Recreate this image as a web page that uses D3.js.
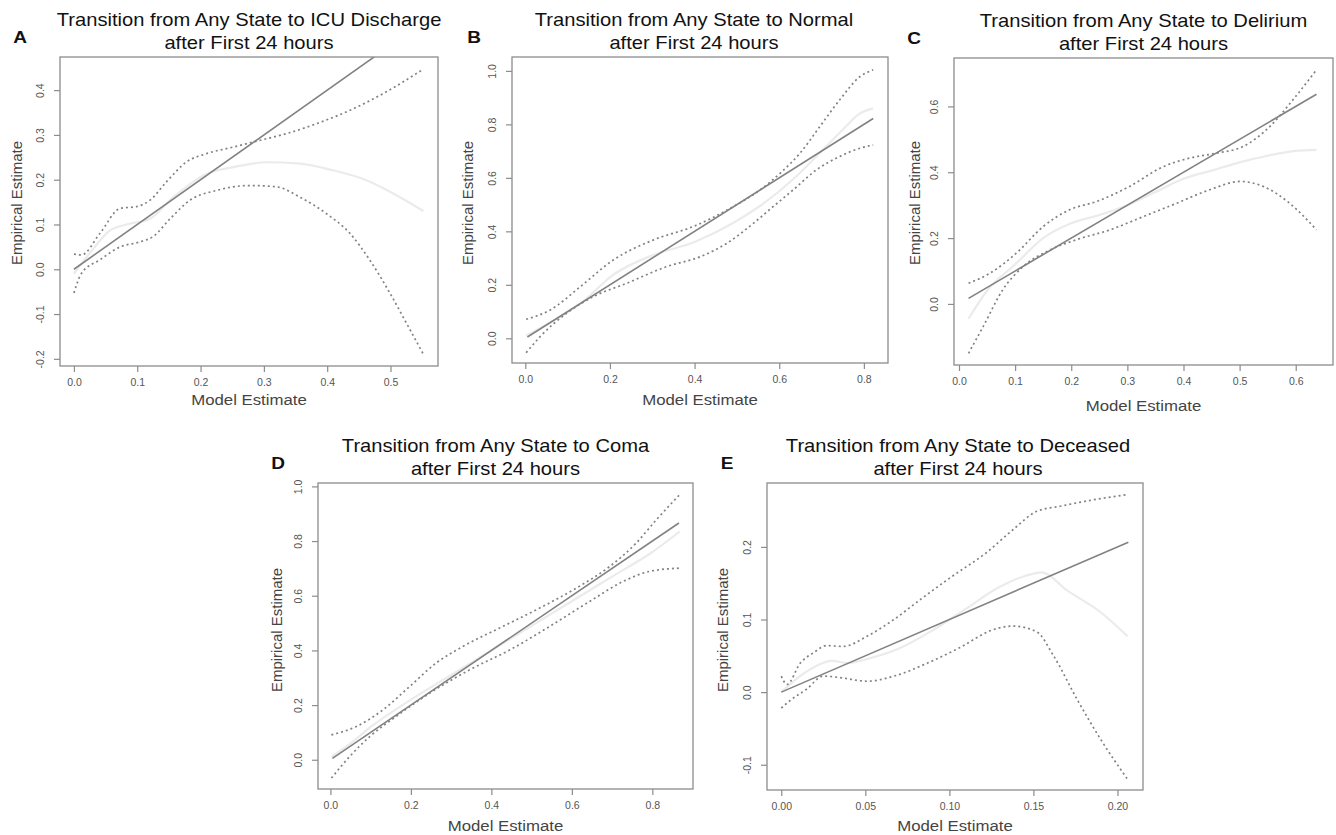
<!DOCTYPE html>
<html>
<head>
<meta charset="utf-8">
<script src="https://cdn.jsdelivr.net/npm/d3@7"></script>
<style>
  body { margin: 0; background: #fff; }
  text { font-family: "Liberation Sans", Arial, sans-serif; }
</style>
</head>
<body>
<div id="dataviz"></div>
<script>
// panel titles and letters
var letters = ['A', 'B', 'C', 'D', 'E'];
var targets = ['ICU Discharge', 'Normal', 'Delirium', 'Coma', 'Deceased'];

// tick values for each panel
var xTicksA = [0, 0.1, 0.2, 0.3, 0.4, 0.5];
var yTicksA = [-0.2, -0.1, 0, 0.1, 0.2, 0.3, 0.4];
var xTicksB = [0, 0.2, 0.4, 0.6, 0.8];
var yTicksB = [0, 0.2, 0.4, 0.6, 0.8, 1.0];
var xTicksC = [0, 0.1, 0.2, 0.3, 0.4, 0.5, 0.6];
var yTicksC = [0, 0.2, 0.4, 0.6];
var xTicksD = [0, 0.2, 0.4, 0.6, 0.8];
var yTicksD = [0, 0.2, 0.4, 0.6, 0.8, 1.0];
var xTicksE = [0, 0.05, 0.10, 0.15, 0.20];
var yTicksE = [-0.1, 0, 0.1, 0.2];

// identity line ends (model estimate range)
var lineA = [[0, 0], [0.555, 0.555]];
var lineB = [[0.005, 0.005], [0.822, 0.822]];
var lineC = [[0.017, 0.017], [0.637, 0.637]];
var lineD = [[0.005, 0.005], [0.866, 0.866]];
var lineE = [[0, 0], [0.2065, 0.2065]];

// A: ICU discharge
var upperA = [[0, 0.034], [0.012, 0.032], [0.041, 0.080], [0.073, 0.136], [0.099, 0.140], [0.12, 0.154],
  [0.146, 0.195], [0.178, 0.24], [0.209, 0.258], [0.252, 0.273], [0.294, 0.288], [0.336, 0.303],
  [0.383, 0.325], [0.436, 0.355], [0.488, 0.392], [0.552, 0.447]];
var lowerA = [[0, -0.053], [0.012, -0.009], [0.041, 0.021], [0.073, 0.05], [0.104, 0.061], [0.125, 0.073],
  [0.152, 0.113], [0.183, 0.154], [0.225, 0.176], [0.278, 0.187], [0.32, 0.184], [0.357, 0.161],
  [0.399, 0.124], [0.436, 0.08], [0.467, 0.021], [0.499, -0.053], [0.525, -0.12], [0.552, -0.19]];
var midA = [[0, -0.01], [0.03, 0.045], [0.057, 0.087], [0.083, 0.10], [0.12, 0.113], [0.157, 0.161],
  [0.209, 0.213], [0.252, 0.228], [0.304, 0.239], [0.357, 0.236], [0.409, 0.221], [0.462, 0.199],
  [0.515, 0.161], [0.552, 0.130]];

// B: normal
var upperB = [[0.002, 0.071], [0.059, 0.106], [0.13, 0.193], [0.208, 0.293], [0.303, 0.368], [0.397, 0.418],
  [0.492, 0.493], [0.555, 0.555], [0.602, 0.617], [0.649, 0.692], [0.696, 0.792], [0.743, 0.892],
  [0.791, 0.979], [0.822, 1.004]];
var lowerB = [[0.002, -0.054], [0.035, 0.006], [0.098, 0.094], [0.161, 0.156], [0.24, 0.206], [0.334, 0.268],
  [0.413, 0.305], [0.476, 0.355], [0.539, 0.43], [0.586, 0.493], [0.633, 0.555], [0.688, 0.63],
  [0.743, 0.68], [0.791, 0.711], [0.822, 0.723]];
var midB = [[0.002, 0.01], [0.06, 0.06], [0.13, 0.13], [0.21, 0.24], [0.3, 0.31], [0.4, 0.36], [0.49, 0.43],
  [0.55, 0.49], [0.6, 0.55], [0.65, 0.62], [0.7, 0.7], [0.75, 0.78], [0.79, 0.84], [0.822, 0.86]];

// C: delirium
var upperC = [[0.017, 0.063], [0.055, 0.093], [0.102, 0.154], [0.15, 0.235], [0.197, 0.286], [0.245, 0.311],
  [0.304, 0.357], [0.364, 0.417], [0.411, 0.443], [0.459, 0.458], [0.506, 0.478], [0.554, 0.539],
  [0.595, 0.62], [0.637, 0.711]];
var lowerC = [[0.017, -0.15], [0.043, -0.069], [0.078, 0.043], [0.114, 0.113], [0.162, 0.164], [0.209, 0.195],
  [0.269, 0.225], [0.328, 0.265], [0.388, 0.306], [0.447, 0.347], [0.501, 0.372], [0.542, 0.357],
  [0.589, 0.306], [0.637, 0.225]];
var midC = [[0.017, -0.045], [0.05, 0.04], [0.1, 0.12], [0.15, 0.2], [0.2, 0.245], [0.25, 0.27], [0.3, 0.3],
  [0.35, 0.34], [0.4, 0.38], [0.45, 0.405], [0.5, 0.43], [0.55, 0.45], [0.6, 0.465], [0.637, 0.468]];

// D: coma
var upperD = [[0.0025, 0.091], [0.065, 0.122], [0.131, 0.183], [0.197, 0.268], [0.263, 0.354], [0.33, 0.415],
  [0.429, 0.488], [0.528, 0.561], [0.611, 0.628], [0.694, 0.707], [0.76, 0.793], [0.81, 0.878], [0.868, 0.970]];
var lowerD = [[0.0025, -0.067], [0.048, 0.012], [0.098, 0.085], [0.164, 0.159], [0.247, 0.244], [0.346, 0.329],
  [0.446, 0.402], [0.545, 0.488], [0.644, 0.579], [0.727, 0.652], [0.793, 0.689], [0.868, 0.701]];
var midD = [[0.0025, 0.01], [0.05, 0.06], [0.1, 0.12], [0.2, 0.22], [0.3, 0.31], [0.4, 0.4], [0.5, 0.49],
  [0.6, 0.58], [0.7, 0.67], [0.8, 0.76], [0.868, 0.835]];

// E: deceased
var upperE = [[0, 0.022], [0.0034, 0.0106], [0.0113, 0.04], [0.019, 0.054], [0.027, 0.064], [0.037, 0.063],
  [0.051, 0.077], [0.067, 0.1], [0.083, 0.128], [0.102, 0.16], [0.122, 0.192], [0.138, 0.224],
  [0.152, 0.249], [0.166, 0.256], [0.186, 0.265], [0.206, 0.272]];
var lowerE = [[0, -0.022], [0.005, -0.012], [0.015, 0.004], [0.025, 0.022], [0.035, 0.02], [0.051, 0.015],
  [0.067, 0.022], [0.087, 0.04], [0.106, 0.061], [0.126, 0.086], [0.138, 0.091], [0.152, 0.083],
  [0.162, 0.05], [0.176, -0.01], [0.19, -0.065], [0.206, -0.12]];
var midE = [[0, 0], [0.01, 0.02], [0.02, 0.035], [0.03, 0.043], [0.04, 0.04], [0.05, 0.045], [0.07, 0.06],
  [0.09, 0.085], [0.11, 0.115], [0.13, 0.145], [0.145, 0.16], [0.155, 0.165], [0.17, 0.14], [0.19, 0.11],
  [0.206, 0.077]];

// layout of each panel (plot box in px and the axis domain at the box edges)
var panels = [
  { box: [60, 57, 378, 309], xDom: [-0.022, 0.575], yDom: [-0.216, 0.474], xT: xTicksA, yT: yTicksA, xf: '.1f', yf: '.1f',
    line: lineA, up: upperA, lo: lowerA, mid: midA, tx: 0, xlab: 400, ylab: 17, yly: 203 },
  { box: [512, 57, 376, 306], xDom: [-0.0314, 0.857], yDom: [-0.0924, 1.052], xT: xTicksB, yT: yTicksB, xf: '.1f', yf: '.1f',
    line: lineB, up: upperB, lo: lowerB, mid: midB, tx: -6, xlab: 400, ylab: 468, yly: 203 },
  { box: [954, 58, 379, 307], xDom: [-0.0089, 0.6664], yDom: [-0.1855, 0.747], xT: xTicksC, yT: yTicksC, xf: '.1f', yf: '.1f',
    line: lineC, up: upperC, lo: lowerC, mid: midC, tx: 0, xlab: 406, ylab: 915, yly: 203 },
  { box: [318, 483, 375, 306], xDom: [-0.0308, 0.901], yDom: [-0.107, 1.0124], xT: xTicksD, yT: yTicksD, xf: '.1f', yf: '.1f',
    line: lineD, up: upperD, lo: lowerD, mid: midD, tx: -10, xlab: 826, ylab: 277, yly: 630 },
  { box: [767, 483, 376, 307], xDom: [-0.0085, 0.2152], yDom: [-0.1348, 0.288], xT: xTicksE, yT: yTicksE, xf: '.2f', yf: '.1f',
    line: lineE, up: upperE, lo: lowerE, mid: midE, tx: 3, xlab: 826, ylab: 723, yly: 630 }
];

var svg = d3.select("#dataviz").append("svg")
    .attr("width", 1336)
    .attr("height", 835);

var boxColor = '#8c8c8c';
var lineColor = '#828282';
var stretch = 1.12; // the figure text looks a bit wider than tall

function fmt(f) {
  var ff = d3.format(f);
  return d => ff(d).replace('\u2212', '-');
}

// text helper, widened horizontally
function wideText(g, x, y, size, str, extra) {
  return g.append("text")
    .attr("transform", "translate(" + x + "," + y + ")" + (extra || "") + " scale(" + stretch + ",1)")
    .attr("text-anchor", "middle")
    .style("font-size", size + "px")
    .text(str);
}

panels.forEach(function(p, i) {
  var bx = p.box[0], by = p.box[1], bw = p.box[2], bh = p.box[3];
  var x = d3.scaleLinear().domain(p.xDom).range([bx, bx + bw]);
  var y = d3.scaleLinear().domain(p.yDom).range([by + bh, by]);

  var g = svg.append("g").attr("class", "panel-" + letters[i]);

  g.append("clipPath").attr("id", "clip" + i)
    .append("rect").attr("x", bx).attr("y", by).attr("width", bw).attr("height", bh);

  var plot = g.append("g").attr("clip-path", "url(#clip" + i + ")");
  var line = d3.line().x(d => x(d[0])).y(d => y(d[1])).curve(d3.curveMonotoneX);

  // light fitted curve
  plot.append("path").attr("d", line(p.mid))
    .attr("fill", "none").attr("stroke", "#ebebeb").attr("stroke-width", 2.2);
  // confidence bounds
  [p.up, p.lo].forEach(function(b) {
    plot.append("path").attr("d", line(b))
      .attr("fill", "none").attr("stroke", lineColor).attr("stroke-width", 1.7)
      .attr("stroke-dasharray", "2,3");
  });
  // identity line
  plot.append("path").attr("d", d3.line().x(d => x(d[0])).y(d => y(d[1]))(p.line))
    .attr("fill", "none").attr("stroke", lineColor).attr("stroke-width", 1.6);

  // box
  g.append("rect").attr("x", bx).attr("y", by).attr("width", bw).attr("height", bh)
    .attr("fill", "none").attr("stroke", boxColor).attr("stroke-width", 1.3);

  // x axis
  var xa = g.append("g").attr("transform", "translate(0," + (by + bh) + ")")
    .call(d3.axisBottom(x).tickValues(p.xT).tickFormat(fmt(p.xf)).tickSize(6).tickPadding(7));
  xa.select(".domain").remove();
  xa.selectAll("line").attr("stroke", boxColor).attr("stroke-width", 1.2);
  xa.selectAll("text").attr("fill", "#555").style("font-size", "10.5px").attr("font-family", null);

  // y axis, labels vertical as in R
  var ya = g.append("g").attr("transform", "translate(" + bx + ",0)")
    .call(d3.axisLeft(y).tickValues(p.yT).tickFormat(fmt(p.yf)).tickSize(6));
  ya.select(".domain").remove();
  ya.selectAll("line").attr("stroke", boxColor).attr("stroke-width", 1.2);
  ya.selectAll("text")
    .attr("fill", "#555").style("font-size", "10.5px").attr("font-family", null)
    .attr("x", null).attr("dy", null)
    .attr("text-anchor", "middle")
    .attr("transform", "translate(-16,0) rotate(-90)");

  // titles
  var cx = bx + bw / 2 + p.tx;
  wideText(g, cx, by - 31, 18, "Transition from Any State to " + targets[i]).attr("fill", "#111");
  wideText(g, cx, by - 8, 18, "after First 24 hours").attr("fill", "#111");

  // panel letter
  wideText(g, bx - 40 + (i == 1 ? 2 : 0), by - 14, 17, letters[i])
    .style("font-weight", "bold").attr("fill", "#111");

  // axis labels
  wideText(g, bx + bw / 2, p.xlab + 5, 15, "Model Estimate").attr("fill", "#444");
  g.append("text").attr("transform", "translate(" + (p.ylab + 5) + "," + p.yly + ") rotate(-90)")
    .attr("text-anchor", "middle")
    .style("font-size", "15px").attr("fill", "#444").text("Empirical Estimate");
});
</script>
</body>
</html>
